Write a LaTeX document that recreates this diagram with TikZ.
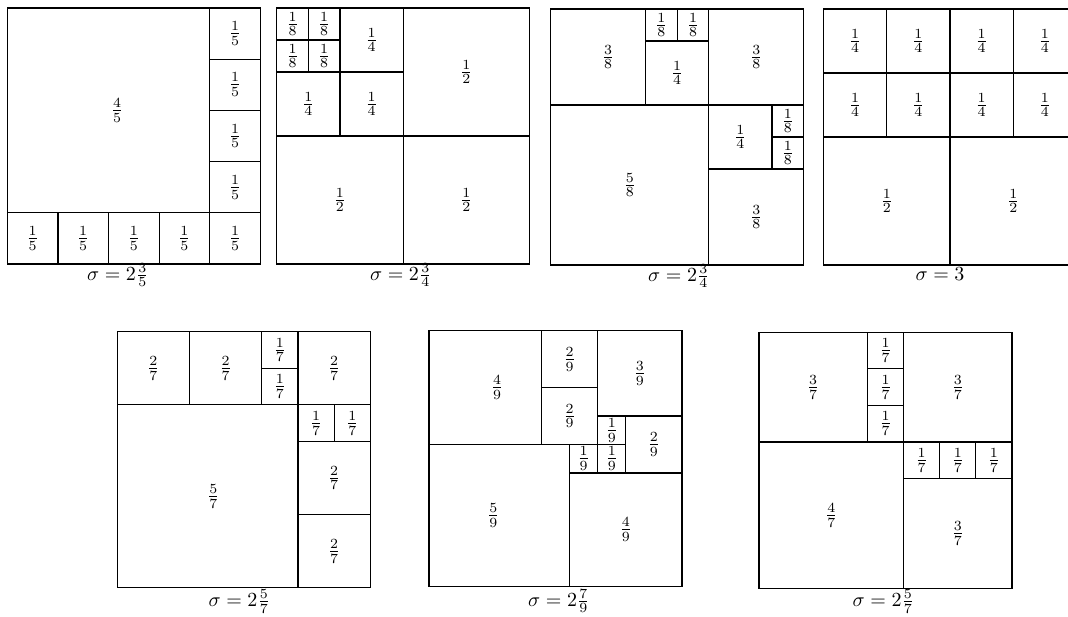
\documentclass[tikz,border=0pt]{standalone}
\usepackage{amsmath}
\usepackage{tikz}
\usetikzlibrary{positioning}
\tikzset{
  pack/.style={x=126.5pt/#1, y=-128pt/#1},
  tile/.style={draw=black, line width=0.6pt},
  frac/.style={inner sep=0pt},
  sigcap/.style={anchor=base, inner sep=0pt},
}

\begin{document}
\begin{tikzpicture}[x=0.5pt, y=-0.5pt]
  \useasboundingbox (0,0) rectangle (1068,616);
  \clip (0,0) rectangle (1068,616);

  % ------------------------------------------------ sigma = 2 3/5
  \begin{scope}[shift={(7.3,8)}, pack=5]
    \foreach \x/\y/\s/\l/\d in {0/0/4/\frac45/4.25, 4/0/1/\frac15/0, 4/1/1/\frac15/0,
        4/2/1/\frac15/0, 4/3/1/\frac15/0, 4/4/1/\frac15/0, 0/4/1/\frac15/0,
        1/4/1/\frac15/0, 2/4/1/\frac15/0, 3/4/1/\frac15/0} {
      \draw[tile] (\x,\y) rectangle ++(\s,\s);
      \node[frac, xshift=\d*1pt] (a-\x-\y) at (\x+\s/2,\y+\s/2) {$\l$};
    }
  \end{scope}
  \node[sigcap] (cap1) at (118,280) {$\sigma=2\frac{3}{5}$};

  % ------------------------------------------------ sigma = 2 3/4, first
  \begin{scope}[shift={(276.7,8)}, pack=8]
    \foreach \x/\y/\s/\l/\d in {0/0/1/\frac18/0, 1/0/1/\frac18/0, 0/1/1/\frac18/0,
        1/1/1/\frac18/0, 2/0/2/\frac14/0, 0/2/2/\frac14/0, 2/2/2/\frac14/0,
        4/0/4/\frac12/0, 0/4/4/\frac12/0, 4/4/4/\frac12/0} {
      \draw[tile] (\x,\y) rectangle ++(\s,\s);
      \node[frac, xshift=\d*1pt] (b-\x-\y) at (\x+\s/2,\y+\s/2) {$\l$};
    }
  \end{scope}
  \node[sigcap] (cap2) at (401,280) {$\sigma=2\frac{3}{4}$};

  % ------------------------------------------------ sigma = 2 3/4, second
  \begin{scope}[shift={(550.7,9)}, pack=8]
    \foreach \x/\y/\s/\l/\d in {0/0/3/\frac38/5, 3/0/1/\frac18/0, 4/0/1/\frac18/0,
        3/1/2/\frac14/0, 5/0/3/\frac38/0, 0/3/5/\frac58/0, 5/3/2/\frac14/0,
        7/3/1/\frac18/0, 7/4/1/\frac18/0, 5/5/3/\frac38/0} {
      \draw[tile] (\x,\y) rectangle ++(\s,\s);
      \node[frac, xshift=\d*1pt] (c-\x-\y) at (\x+\s/2,\y+\s/2) {$\l$};
    }
  \end{scope}
  \node[sigcap] (cap3) at (679,281) {$\sigma=2\frac{3}{4}$};

  % ------------------------------------------------ sigma = 3
  \begin{scope}[shift={(823.5,9)}, pack=4]
    \foreach \x/\y/\s/\l/\d in {0/0/1/\frac14/0, 1/0/1/\frac14/0, 2/0/1/\frac14/0,
        3/0/1/\frac14/0, 0/1/1/\frac14/0, 1/1/1/\frac14/0, 2/1/1/\frac14/0,
        3/1/1/\frac14/0, 0/2/2/\frac12/0, 2/2/2/\frac12/0} {
      \draw[tile] (\x,\y) rectangle ++(\s,\s);
      \node[frac, xshift=\d*1pt] (d-\x-\y) at (\x+\s/2,\y+\s/2) {$\l$};
    }
  \end{scope}
  \node[sigcap] (cap4) at (940,280) {$\sigma=3$};

  % ------------------------------------------------ sigma = 2 5/7, first
  \begin{scope}[shift={(117.3,331.7)}, pack=7]
    \foreach \x/\y/\s/\l/\d in {0/0/2/\frac27/0, 2/0/2/\frac27/0, 4/0/1/\frac17/0,
        4/1/1/\frac17/0, 5/0/2/\frac27/0, 0/2/5/\frac57/2.8, 5/2/1/\frac17/0,
        6/2/1/\frac17/0, 5/3/2/\frac27/0, 5/5/2/\frac27/0} {
      \draw[tile] (\x,\y) rectangle ++(\s,\s);
      \node[frac, xshift=\d*1pt] (e-\x-\y) at (\x+\s/2,\y+\s/2) {$\l$};
    }
  \end{scope}
  \node[sigcap] (cap5) at (239.5,606.5) {$\sigma=2\frac{5}{7}$};

  % ------------------------------------------------ sigma = 2 7/9
  \begin{scope}[shift={(429,330.7)}, pack=9]
    \foreach \x/\y/\s/\l/\d in {0/0/4/\frac49/6, 4/0/2/\frac29/0, 4/2/2/\frac29/0,
        6/0/3/\frac39/0, 6/3/1/\frac19/0, 7/3/2/\frac29/0, 0/4/5/\frac59/-3,
        5/4/1/\frac19/0, 6/4/1/\frac19/0, 5/5/4/\frac49/0} {
      \draw[tile] (\x,\y) rectangle ++(\s,\s);
      \node[frac, xshift=\d*1pt] (f-\x-\y) at (\x+\s/2,\y+\s/2) {$\l$};
    }
  \end{scope}
  \node[sigcap] (cap6) at (559,606) {$\sigma=2\frac{7}{9}$};

  % ------------------------------------------------ sigma = 2 5/7, second
  \begin{scope}[shift={(759,332.3)}, pack=7]
    \foreach \x/\y/\s/\l/\d in {0/0/3/\frac37/0, 3/0/1/\frac17/0, 3/1/1/\frac17/0,
        3/2/1/\frac17/0, 4/0/3/\frac37/0, 0/3/4/\frac47/0, 4/3/1/\frac17/0,
        5/3/1/\frac17/0, 6/3/1/\frac17/0, 4/4/3/\frac37/0} {
      \draw[tile] (\x,\y) rectangle ++(\s,\s);
      \node[frac, xshift=\d*1pt] (g-\x-\y) at (\x+\s/2,\y+\s/2) {$\l$};
    }
  \end{scope}
  \node[sigcap] (cap7) at (883.5,606.5) {$\sigma=2\frac{5}{7}$};
\end{tikzpicture}
\end{document}
